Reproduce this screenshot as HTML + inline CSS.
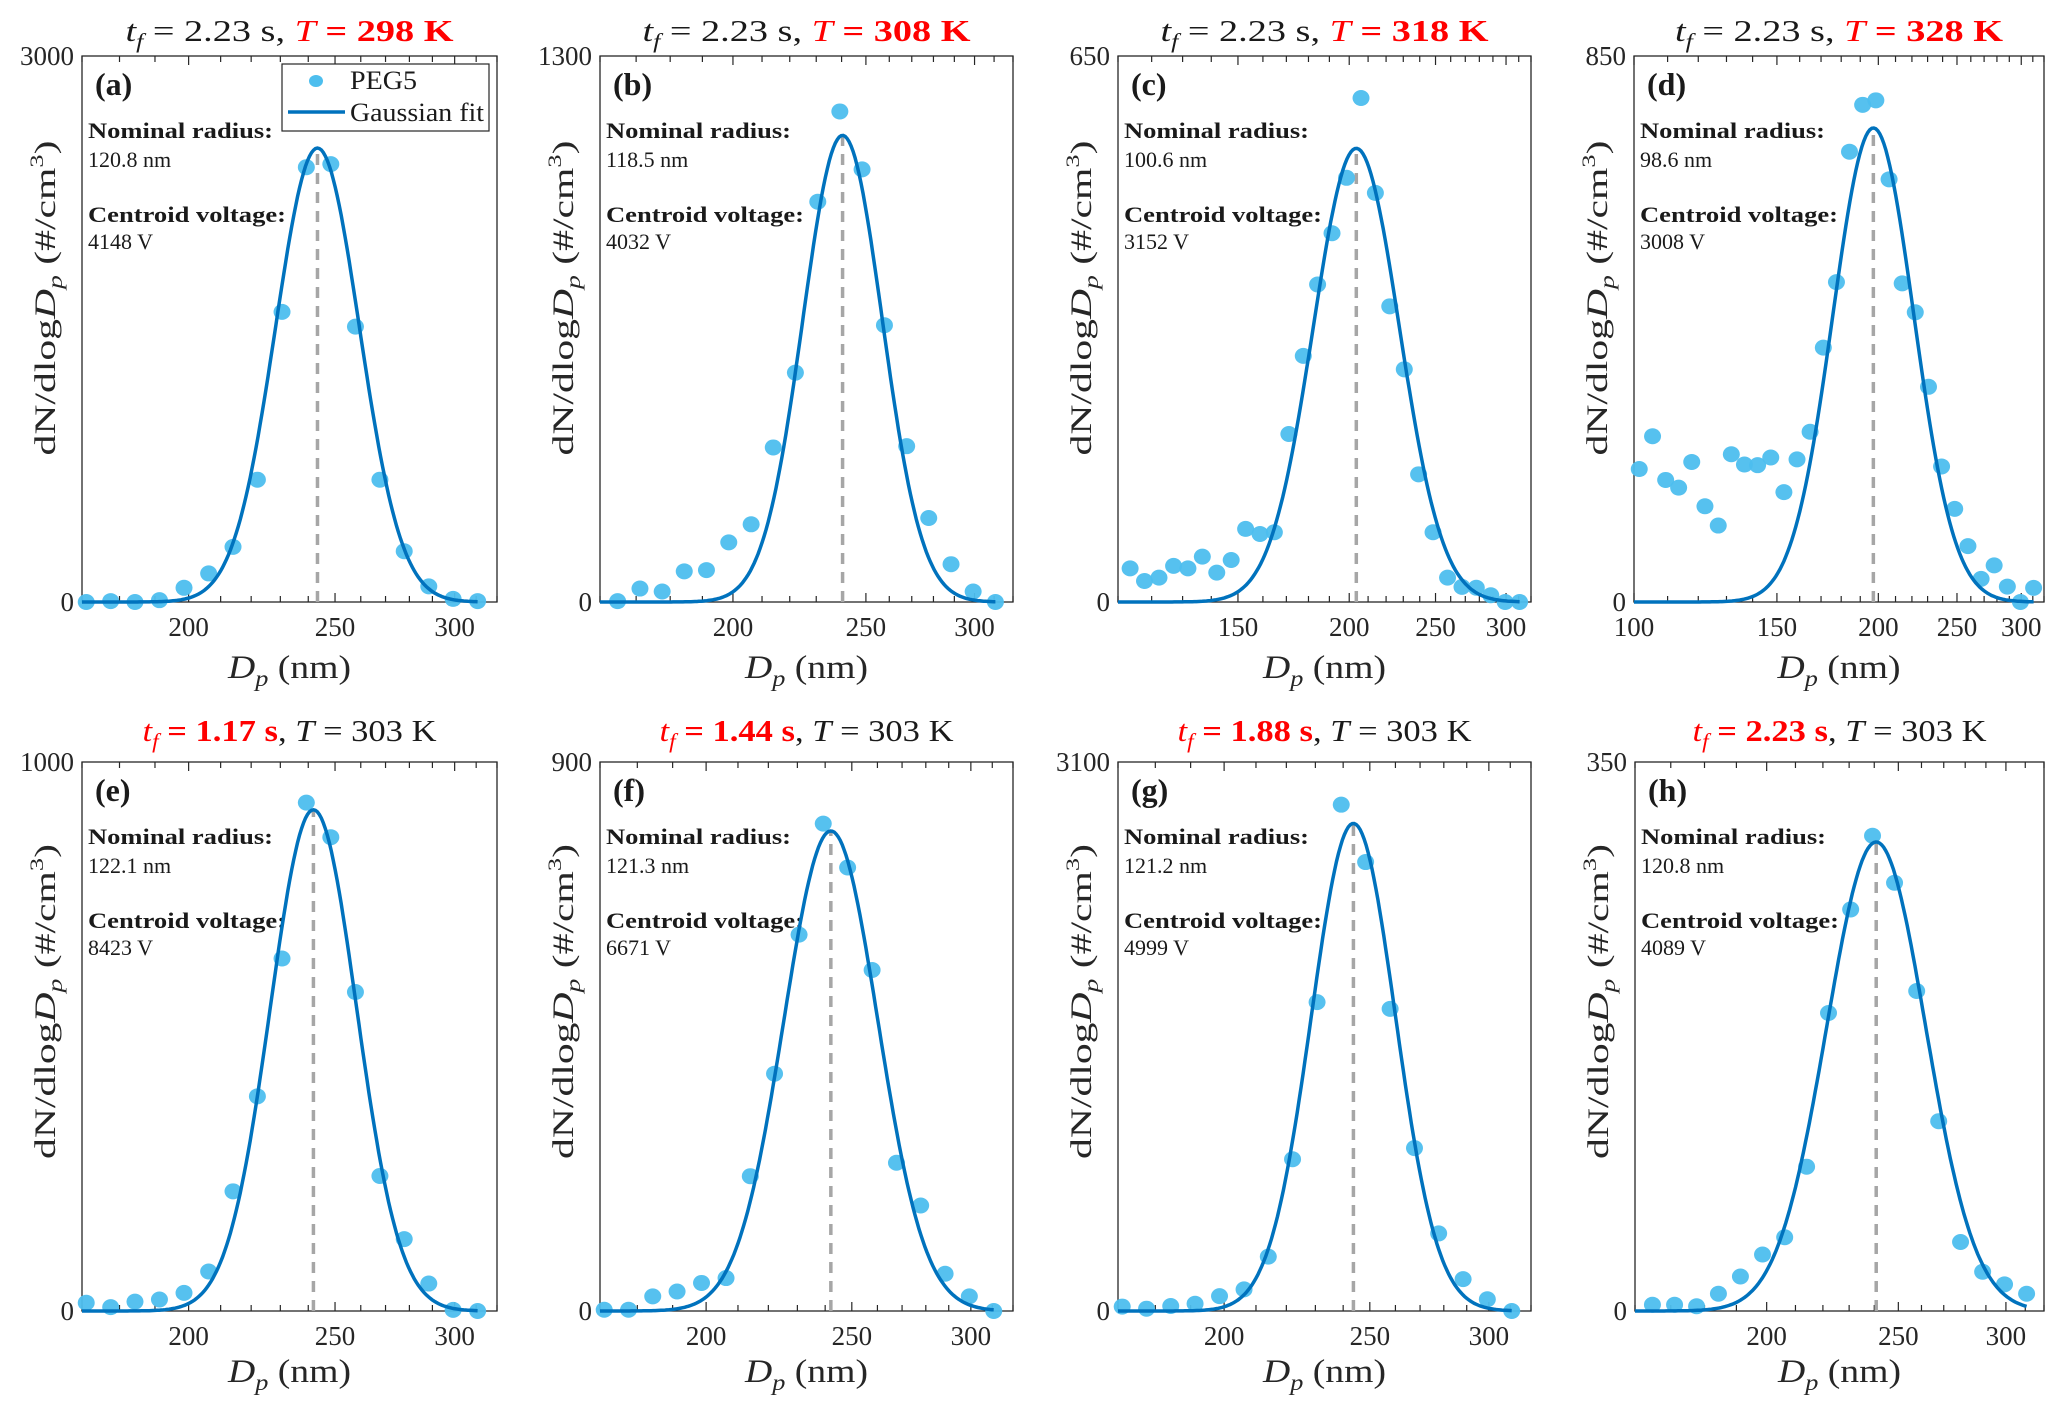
<!DOCTYPE html>
<html><head><meta charset="utf-8"><style>
html,body{margin:0;padding:0;background:#fff;}
svg{display:block;font-family:"Liberation Serif",serif;}
</style></head><body>
<svg id="fig" width="2067" height="1403" viewBox="0 0 2067 1403" xmlns="http://www.w3.org/2000/svg"></svg>
<script>
// ---- data (bin diameters in nm, dN/dlogDp values) ----
const diam17 = [171.1,177.6,184.3,191.3,198.6,206.2,214.0,222.1,230.6,239.3,248.4,257.9,267.7,277.8,288.4,299.3,310.7];
const diam18 = [164.8,171.1,177.6,184.3,191.3,198.6,206.2,214.0,222.1,230.6,239.3,248.4,257.9,267.7,277.8,288.4,299.3,310.7];
const diam28 = [113.5,117.8,122.3,127.0,131.8,136.8,142.0,147.4,153.0,158.8,164.8,171.1,177.6,184.3,191.3,198.6,206.2,214.0,222.1,230.6,239.3,248.4,257.9,267.7,277.8,288.4,299.3,310.7];
const diam31 = [101.5,105.4,109.4,113.5,117.8,122.3,127.0,131.8,136.8,142.0,147.4,153.0,158.8,164.8,171.1,177.6,184.3,191.3,198.6,206.2,214.0,222.1,230.6,239.3,248.4,257.9,267.7,277.8,288.4,299.3,310.7];

const valsA = [0,5,0,10,78,157,303,672,1594,2389,2406,1513,672,279,86,17,5];
const valsB = [2,32,25,73,76,142,185,368,546,953,1168,1030,659,371,200,90,25,0];
const valsC = [40,25,29,43,40,54,35,50,87,81,83,200,293,378,439,505,600,487,352,277,152,83,29,18,17,8,0,0];
const valsD = [207,258,190,178,218,149,119,230,214,213,225,171,222,265,396,498,701,774,781,658,496,451,335,211,145,87,36,57,24,0,22];
const valsE = [15,7,17,21,33,72,218,391,642,926,863,581,246,131,50,2,0];
const valsF = [2,2,24,32,46,54,221,389,617,799,727,559,243,173,61,24,0];
const valsG = [25,13,28,41,84,122,307,857,1744,2859,2535,1706,920,438,180,66,0];
const valsH = [4,4,3,11,22,36,47,92,190,256,303,273,204,121,44,25,17,11];

// Gaussian fit parameters: peak value, centre diameter (nm), sigma (log10 units)
const fitPeak = [2494,1111,540,738,913,787,2753,299];
const fitCenter = [243.4,240.4,203.7,197.2,241.9,242.1,243.8,240.8];
const fitSigma = [0.0277,0.0289,0.0483,0.0498,0.0285,0.0312,0.0279,0.0364];

const yMaxes = [3000,1300,650,850,1000,900,3100,350];
const xMins = [170,160,110,100,170,170,170,160];
const xTickLabels = [[200,250,300],[200,250,300],[150,200,250,300],[100,150,200,250,300],[200,250,300],[200,250,300],[200,250,300],[200,250,300]];
const radii = ["120.8","118.5","100.6","98.6","122.1","121.3","121.2","120.8"];
const volts = ["4148","4032","3152","3008","8423","6671","4999","4089"];
const letters = ["a","b","c","d","e","f","g","h"];
const tfs = ["2.23","2.23","2.23","2.23","1.17","1.44","1.88","2.23"];
const temps = ["298","308","318","328","303","303","303","303"];

// ---- layout ----
const TT = 56, TB = 602, BT = 762, BB = 1311;
const boxes = [[82,TT,497,TB],[600,TT,1013,TB],[1118,TT,1531,TB],[1634,TT,2044,TB],
               [82,BT,497,BB],[600,BT,1013,BB],[1118,BT,1531,BB],[1635,BT,2044,BB]];
const xsets = [diam17,diam18,diam28,diam31,diam17,diam17,diam17,diam18];
const ysets = [valsA,valsB,valsC,valsD,valsE,valsF,valsG,valsH];
const XMAX = 320;
const NS = "http://www.w3.org/2000/svg";
const svg = document.getElementById('fig');
function mk(tag, attrs, parent){
  const e = document.createElementNS(NS, tag);
  for (const k in attrs) e.setAttribute(k, attrs[k]);
  (parent||svg).appendChild(e);
  return e;
}
function tsp(parent, txt, attrs){
  const t = document.createElementNS(NS,'tspan');
  for (const k in attrs) t.setAttribute(k, attrs[k]);
  t.textContent = txt; parent.appendChild(t); return t;
}

for (let p=0;p<8;p++){
  const [L,T,R,B] = boxes[p];
  const top = p<4;
  const g = mk('g',{});
  
  
  const lx0 = Math.log10(xMins[p]), lx1 = Math.log10(XMAX);
  const xs = d => L + (Math.log10(d)-lx0)/(lx1-lx0)*(R-L);
  const ys = v => B - v/yMaxes[p]*(B-T);

  const box = mk('rect',{x:L,y:T,width:R-L,height:B-T,fill:'none',stroke:'#262626','stroke-width':1.3},g);
  
  

  for (let d=Math.ceil(xMins[p]/10)*10; d<=XMAX; d+=10){
    const x = xs(d);
    const len = (d%50===0)?9:6;
    mk('line',{x1:x,y1:B,x2:x,y2:B-len,stroke:'#262626','stroke-width':1.2},g);
    mk('line',{x1:x,y1:T,x2:x,y2:T+len,stroke:'#262626','stroke-width':1.2},g);
  }
  xTickLabels[p].forEach(v=>{
    const t = mk('text',{x:xs(v),y:B+34,'font-size':27,'text-anchor':'middle',fill:'#262626'},g);
    t.textContent = v;
    
    
  });
  [[0,B],[yMaxes[p],T]].forEach(([v,y])=>{
    const t = mk('text',{x:L-8,y:y+9,'font-size':27,'text-anchor':'end',fill:'#262626'},g);
    t.textContent = v;
    
    
  });

  // x label
  const xl = mk('text',{x:(L+R)/2,y:B+(top?76:71),'font-size':33,'text-anchor':'middle',fill:'#262626',textLength:123,lengthAdjust:'spacingAndGlyphs'},g);
  
  
  tsp(xl,'D',{'font-style':'italic'});
  tsp(xl,'p',{'font-style':'italic','font-size':23,dy:8});
  tsp(xl,' (nm)',{dy:-8});

  // y label
  const cy = (T+B)/2 - (top?31:35), cx = L-27;
  const yl = mk('text',{x:cx,y:cy,'font-size':30,'text-anchor':'middle',fill:'#262626',transform:`rotate(-90 ${cx} ${cy})`,textLength:315,lengthAdjust:'spacingAndGlyphs'},g);
  
  
  tsp(yl,'dN/dlog',{});
  tsp(yl,'D',{'font-style':'italic'});
  tsp(yl,'p',{'font-style':'italic','font-size':20,dy:7});
  tsp(yl,' (#/cm',{dy:-7});
  tsp(yl,'3',{'font-size':19,dy:-12});
  tsp(yl,')',{dy:12});

  // title
  const tt = mk('text',{x:(L+R)/2,y:top?T-15:T-21,'font-size':31,'text-anchor':'middle',fill:'#1a1a1a',textLength:(top?328:294),lengthAdjust:'spacingAndGlyphs'},g);
  
  
  const c1 = top ? '#1a1a1a' : '#ff0000';
  const c2 = top ? '#ff0000' : '#1a1a1a';
  tsp(tt,'t',{'font-style':'italic',fill:c1});
  tsp(tt,'f',{'font-style':'italic','font-size':21,dy:7,fill:c1});
  tsp(tt,' = '+tfs[p]+' s',{dy:-7,fill:c1,'font-weight':top?'normal':'bold'});
  tsp(tt,', ',{fill:'#1a1a1a'});
  tsp(tt,'T',{'font-style':'italic',fill:c2});
  tsp(tt,' = '+temps[p]+' K',{fill:c2,'font-weight':top?'bold':'normal'});

  // panel letter
  const pl = mk('text',{x:L+13,y:T+39,'font-size':32,'font-weight':'bold',fill:'#1a1a1a'},g);
  pl.textContent = '('+letters[p]+')';
  
  

  const ann = [['Nominal radius:',82,true,185],[radii[p]+' nm',111,false,null],['Centroid voltage:',166,true,198],[volts[p]+' V',193,false,null]];
  ann.forEach(([s,dy,b,w])=>{
    const at = {x:L+6,y:T+dy,'font-size':22,'font-weight':b?'bold':'normal',fill:'#1a1a1a'};
    if (w){ at.textLength = w; at.lengthAdjust = 'spacingAndGlyphs'; }
    const t = mk('text',at,g);
    t.textContent = s;
    
    
  });

  const cxp = xs(fitCenter[p]);
  const dl = mk('line',{x1:cxp,y1:B,x2:cxp,y2:ys(fitPeak[p]),stroke:'#a6a6a6','stroke-width':3.5,'stroke-dasharray':'11 8'},g);
  
  

  const xa = xsets[p], ya = ysets[p];
  for (let i=0;i<xa.length;i++){
    const c = mk('ellipse',{cx:xs(xa[i]),cy:ys(ya[i]),rx:8.5,ry:8,fill:'#4DBEEE','fill-opacity':0.95},g);
    
    
  }

  let d = '';
  const lc = Math.log10(fitCenter[p]), s = fitSigma[p];
  const dEnd = xa[xa.length-1];
  const N = 200;
  for (let k=0;k<=N;k++){
    const D = Math.pow(10, lx0 + (Math.log10(dEnd)-lx0)*k/N);
    const v = fitPeak[p]*Math.exp(-Math.pow(Math.log10(D)-lc,2)/(2*s*s));
    d += (k?'L':'M') + xs(D).toFixed(1) + ' ' + ys(v).toFixed(1);
  }
  const fl = mk('path',{d:d,fill:'none',stroke:'#0072BD','stroke-width':3.5},g);
  
  
}

// legend in panel (a)
const lg = mk('g',{});


mk('rect',{x:282,y:64,width:207,height:67,fill:'#fff',stroke:'#262626','stroke-width':1.2},lg);
const lm = mk('ellipse',{cx:316,cy:81,rx:7,ry:6,fill:'#4DBEEE'},lg);


const lt1 = mk('text',{x:350,y:89,'font-size':26,fill:'#1a1a1a',textLength:67,lengthAdjust:'spacingAndGlyphs'},lg);
lt1.textContent = 'PEG5';


const ll = mk('line',{x1:288,y1:112,x2:345,y2:112,stroke:'#0072BD','stroke-width':3.5},lg);


const lt2 = mk('text',{x:350,y:121,'font-size':26,fill:'#1a1a1a',textLength:134,lengthAdjust:'spacingAndGlyphs'},lg);
lt2.textContent = 'Gaussian fit';


</script>
</body></html>
